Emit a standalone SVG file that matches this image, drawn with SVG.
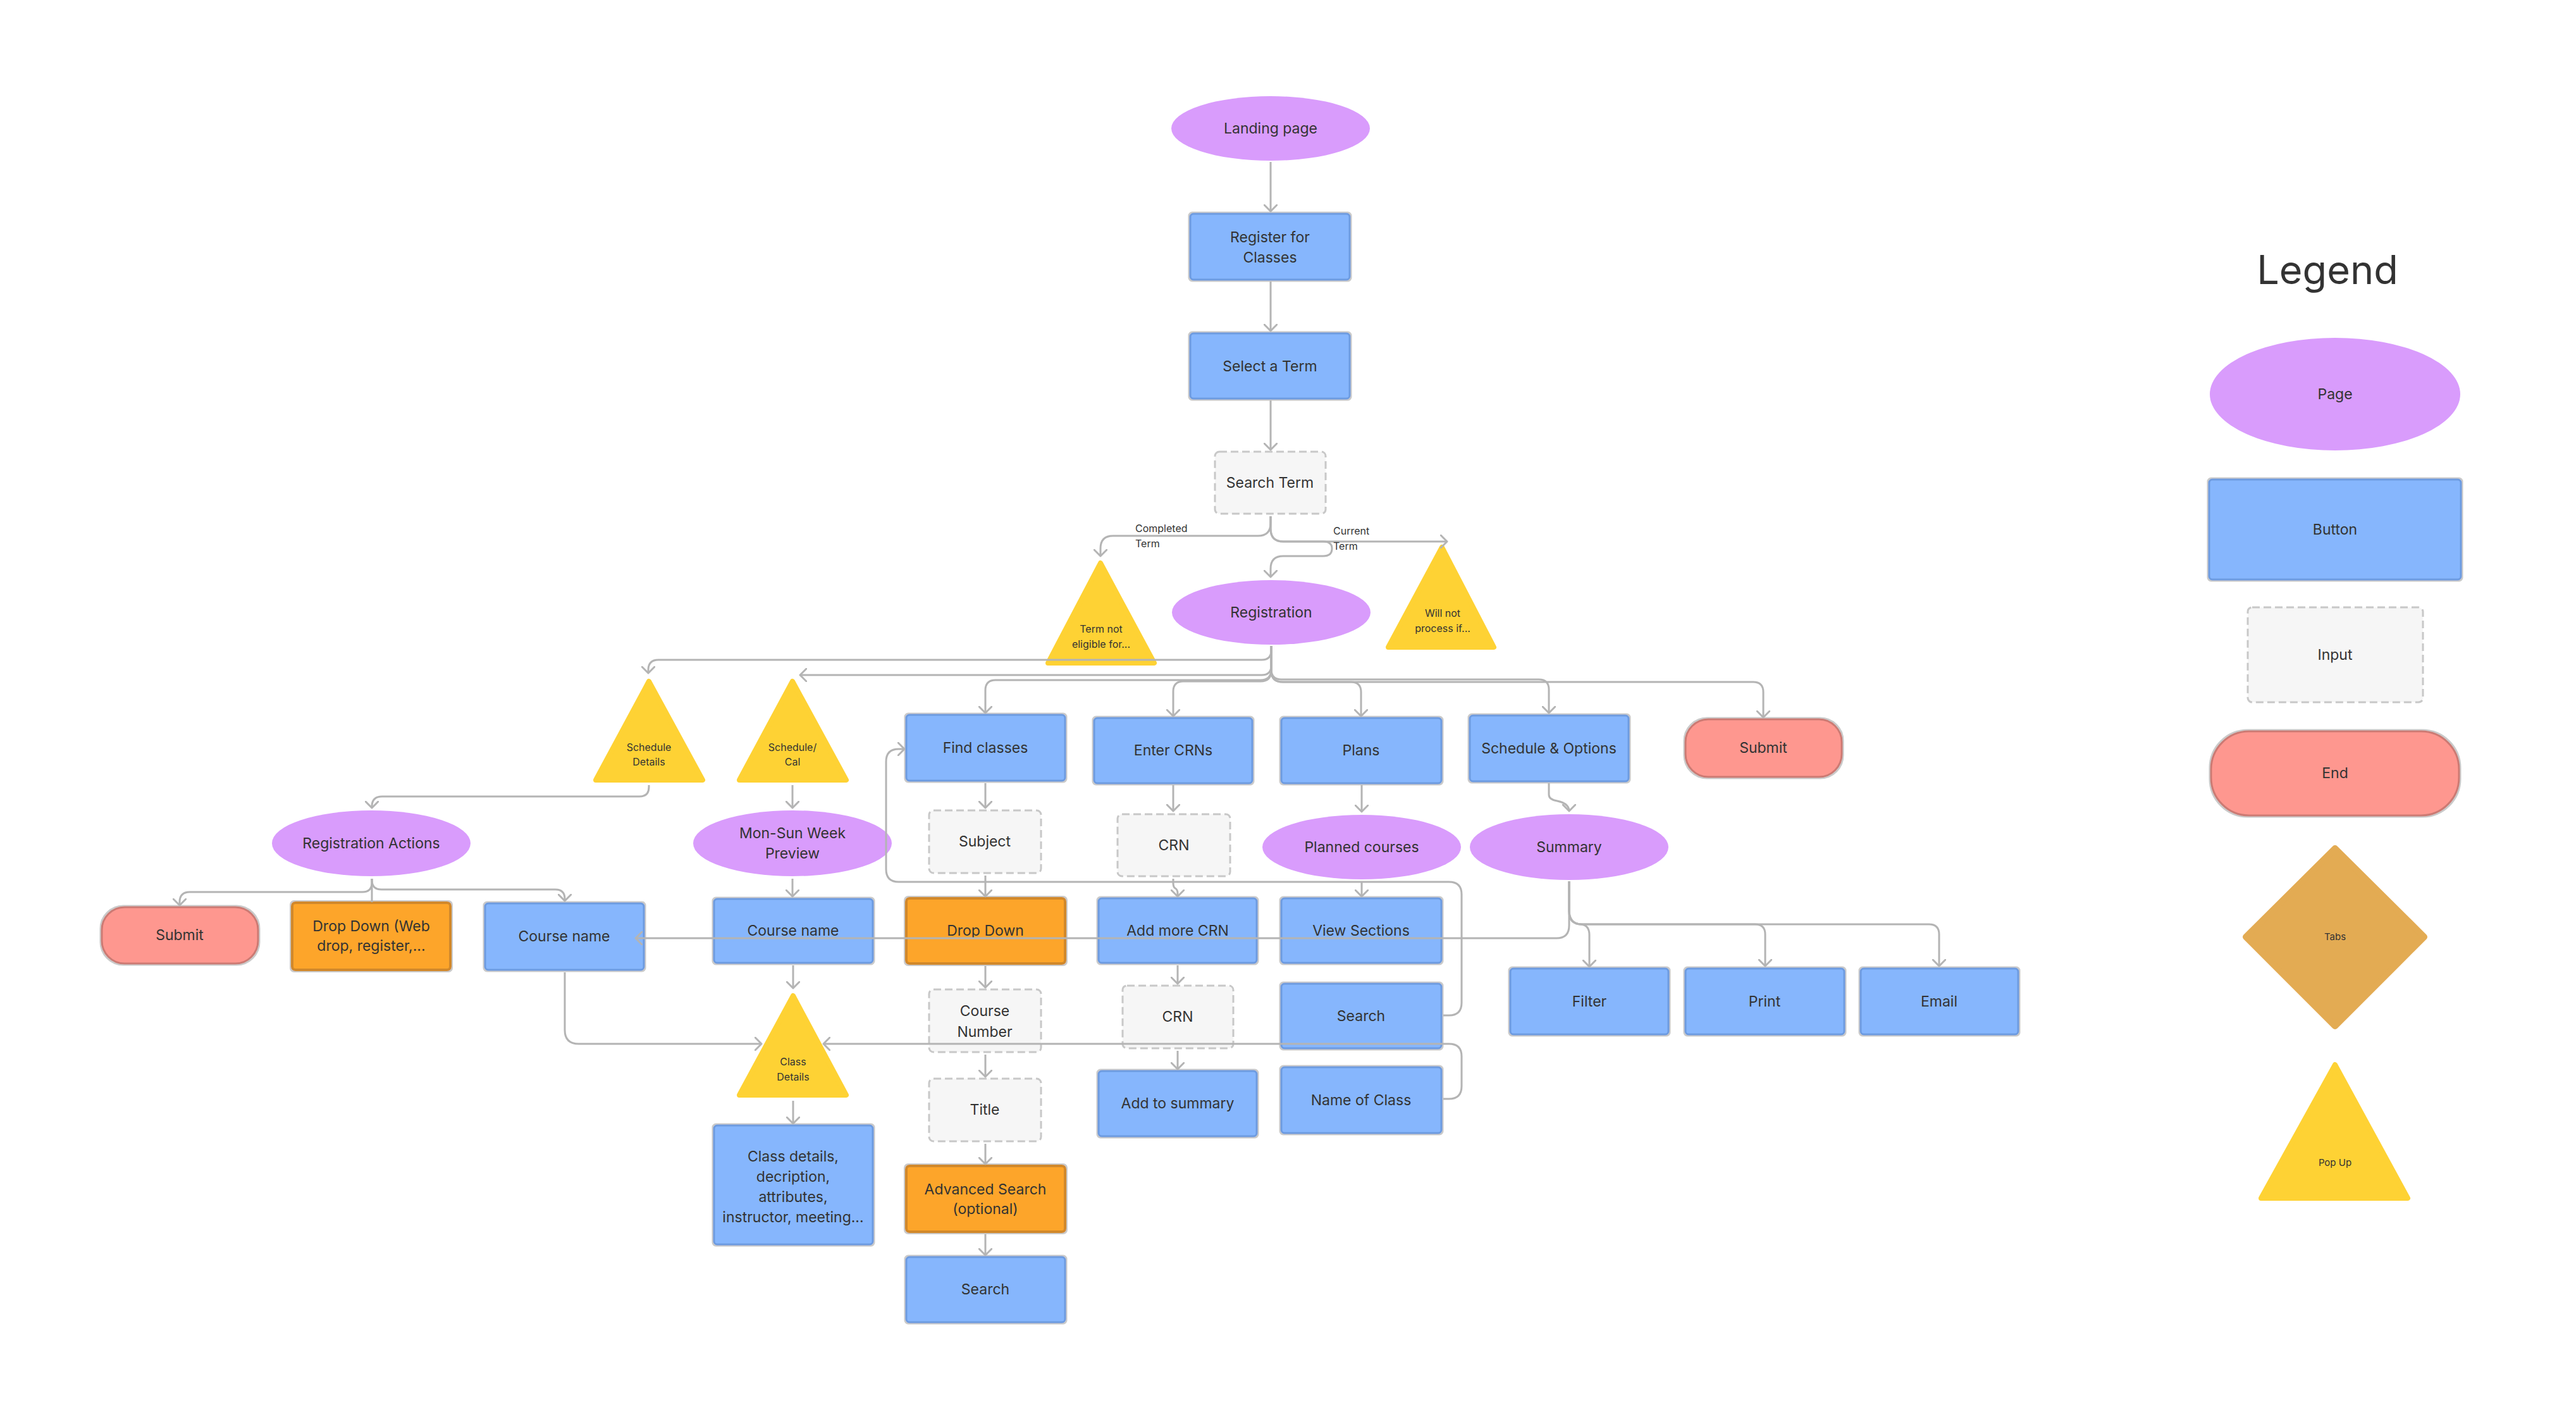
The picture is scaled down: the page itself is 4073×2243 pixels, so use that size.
<svg xmlns="http://www.w3.org/2000/svg" width="4073" height="2243" viewBox="0 0 4073 2243">
<defs>
<filter id="ol" x="-5%" y="-5%" width="110%" height="110%">
<feMorphology in="SourceAlpha" operator="dilate" radius="2" result="d"/>
<feFlood flood-color="#CACACA"/>
<feComposite in2="d" operator="in" result="o"/>
<feMerge><feMergeNode in="o"/><feMergeNode in="SourceGraphic"/></feMerge>
</filter>
<marker id="a" viewBox="0 0 22 22" refX="11" refY="11" markerWidth="22" markerHeight="22" orient="auto" markerUnits="userSpaceOnUse">
<path d="M1,1 L11,11 L1,21" fill="none" stroke="#B4B4B4" stroke-width="3" stroke-linecap="round" stroke-linejoin="round"/>
</marker>
<style>
.t{font-family:Inter,"Noto Sans","Liberation Sans",sans-serif;font-size:23px;fill:#333;text-anchor:middle}
.s{font-size:16px}
.l{text-anchor:start}
.pg{fill:#D99CFC}
.bt{fill:#86B6FD;stroke:#6D9BE0;stroke-width:3;filter:url(#ol)}
.in{fill:#F6F6F6;stroke:#C8C8C8;stroke-width:3;stroke-dasharray:12 6}
.en{fill:#FE978F;stroke:#CC7A73;stroke-width:3;filter:url(#ol)}
.or{fill:#FDA52B;stroke:#D1882A;stroke-width:4;filter:url(#ol)}
.pu{fill:#FED234;stroke:#FED234;stroke-width:8;stroke-linejoin:round}
.tb{fill:#E3AB53;stroke:#E3AB53;stroke-width:10;stroke-linejoin:round}
.c{fill:none;stroke:#B4B4B4;stroke-width:3;marker-end:url(#a)}
.cn{fill:none;stroke:#B4B4B4;stroke-width:3}
</style>
</defs>
<rect width="4073" height="2243" fill="#FFFFFF"/>

<g id="landing"><ellipse class="pg" cx="2009" cy="203" rx="157" ry="51"/><text class="t" x="2009" y="211">Landing page</text></g>
<g id="register"><rect class="bt" x="1882" y="338" width="252" height="104" rx="5"/><text class="t" x="2008" y="383">Register for</text><text class="t" x="2008" y="415">Classes</text></g>
<g id="select-term"><rect class="bt" x="1882" y="527" width="252" height="103" rx="5"/><text class="t" x="2008" y="587">Select a Term</text></g>
<g id="search-term"><rect class="in" x="1921" y="714" width="175" height="98" rx="7"/><text class="t" x="2008" y="771">Search Term</text></g>
<g id="term-not-eligible"><polygon class="pu" points="1740,890 1825,1048 1657,1048"/><text class="t s" x="1741" y="1000">Term not</text><text class="t s" x="1741" y="1024">eligible for...</text></g>
<g id="will-not-process"><polygon class="pu" points="2280,865 2362,1023 2195,1023"/><text class="t s" x="2281" y="975">Will not</text><text class="t s" x="2281" y="999">process if...</text></g>
<g id="registration"><ellipse class="pg" cx="2010" cy="968" rx="157" ry="51"/><text class="t" x="2010" y="976">Registration</text></g>

<g id="schedule-details"><polygon class="pu" points="1026,1077 1111,1233 942,1233"/><text class="t s" x="1026" y="1187">Schedule</text><text class="t s" x="1026" y="1210">Details</text></g>
<g id="schedule-cal"><polygon class="pu" points="1253,1077 1338,1233 1169,1233"/><text class="t s" x="1253" y="1187">Schedule/</text><text class="t s" x="1253" y="1210">Cal</text></g>
<g id="find-classes"><rect class="bt" x="1433" y="1130" width="251" height="104" rx="5"/><text class="t" x="1558" y="1190">Find classes</text></g>
<g id="enter-crns"><rect class="bt" x="1730" y="1135" width="250" height="103" rx="5"/><text class="t" x="1855" y="1194">Enter CRNs</text></g>
<g id="plans"><rect class="bt" x="2026" y="1135" width="253" height="103" rx="5"/><text class="t" x="2152" y="1194">Plans</text></g>
<g id="schedule-options"><rect class="bt" x="2324" y="1131" width="251" height="104" rx="5"/><text class="t" x="2449" y="1191">Schedule &amp; Options</text></g>
<g id="submit-right"><rect class="en" x="2665" y="1137" width="247" height="91" rx="36"/><text class="t" x="2788" y="1190">Submit</text></g>

<g id="registration-actions"><ellipse class="pg" cx="587" cy="1333" rx="157" ry="52"/><text class="t" x="587" y="1341">Registration Actions</text></g>
<g id="mon-sun"><ellipse class="pg" cx="1253" cy="1333" rx="157" ry="52"/><text class="t" x="1253" y="1325">Mon-Sun Week</text><text class="t" x="1253" y="1357">Preview</text></g>
<g id="subject"><rect class="in" x="1469" y="1281" width="177" height="99" rx="7"/><text class="t" x="1557" y="1338">Subject</text></g>
<g id="crn-1"><rect class="in" x="1767" y="1287" width="178" height="98" rx="7"/><text class="t" x="1856" y="1344">CRN</text></g>
<g id="planned-courses"><ellipse class="pg" cx="2153" cy="1339" rx="157" ry="51"/><text class="t" x="2153" y="1347">Planned courses</text></g>
<g id="summary"><ellipse class="pg" cx="2481" cy="1339" rx="157" ry="52"/><text class="t" x="2481" y="1347">Summary</text></g>

<g id="submit-left"><rect class="en" x="161" y="1434" width="247" height="89" rx="36"/><text class="t" x="284" y="1486">Submit</text></g>
<g id="drop-down-web"><rect class="or" x="462" y="1427" width="250" height="106" rx="5"/><text class="t" x="587" y="1472">Drop Down (Web</text><text class="t" x="587" y="1503">drop, register,...</text></g>
<g id="course-name-left"><rect class="bt" x="767" y="1428" width="251" height="105" rx="5"/><text class="t" x="892" y="1488">Course name</text></g>
<g id="course-name-mid"><rect class="bt" x="1129" y="1421" width="251" height="101" rx="5"/><text class="t" x="1254" y="1479">Course name</text></g>
<g id="drop-down"><rect class="or" x="1433" y="1420" width="251" height="103" rx="5"/><text class="t" x="1558" y="1479">Drop Down</text></g>
<g id="add-more-crn"><rect class="bt" x="1737" y="1420" width="250" height="102" rx="5"/><text class="t" x="1862" y="1479">Add more CRN</text></g>
<g id="view-sections"><rect class="bt" x="2026" y="1420" width="253" height="102" rx="5"/><text class="t" x="2152" y="1479">View Sections</text></g>

<g id="class-details-popup"><polygon class="pu" points="1254,1574 1338,1731 1169,1731"/><text class="t s" x="1254" y="1684">Class</text><text class="t s" x="1254" y="1708">Details</text></g>
<g id="course-number"><rect class="in" x="1469" y="1564" width="177" height="99" rx="7"/><text class="t" x="1557" y="1606">Course</text><text class="t" x="1557" y="1639">Number</text></g>
<g id="crn-2"><rect class="in" x="1775" y="1558" width="175" height="99" rx="7"/><text class="t" x="1862" y="1615">CRN</text></g>
<g id="search-col"><rect class="bt" x="2026" y="1555" width="253" height="102" rx="5"/><text class="t" x="2152" y="1614">Search</text></g>
<g id="filter"><rect class="bt" x="2388" y="1531" width="250" height="104" rx="5"/><text class="t" x="2513" y="1591">Filter</text></g>
<g id="print"><rect class="bt" x="2665" y="1531" width="251" height="104" rx="5"/><text class="t" x="2790" y="1591">Print</text></g>
<g id="email"><rect class="bt" x="2942" y="1531" width="249" height="104" rx="5"/><text class="t" x="3066" y="1591">Email</text></g>

<g id="class-details-box"><rect class="bt" x="1129" y="1779" width="251" height="188" rx="5"/><text class="t" x="1254" y="1836">Class details,</text><text class="t" x="1254" y="1868">decription,</text><text class="t" x="1254" y="1900">attributes,</text><text class="t" x="1254" y="1932">instructor, meeting...</text></g>
<g id="title"><rect class="in" x="1469" y="1705" width="177" height="99" rx="7"/><text class="t" x="1557" y="1762">Title</text></g>
<g id="add-to-summary"><rect class="bt" x="1737" y="1693" width="250" height="103" rx="5"/><text class="t" x="1862" y="1752">Add to summary</text></g>
<g id="name-of-class"><rect class="bt" x="2026" y="1687" width="253" height="104" rx="5"/><text class="t" x="2152" y="1747">Name of Class</text></g>
<g id="advanced-search"><rect class="or" x="1433" y="1843" width="251" height="104" rx="5"/><text class="t" x="1558" y="1888">Advanced Search</text><text class="t" x="1558" y="1919">(optional)</text></g>
<g id="search-bottom"><rect class="bt" x="1433" y="1987" width="251" height="103" rx="5"/><text class="t" x="1558" y="2046">Search</text></g>

<g id="legend">
<text class="t" x="3680" y="449" style="font-size:63px">Legend</text>
<g id="legend-page"><ellipse class="pg" cx="3692" cy="623" rx="198" ry="89"/><text class="t" x="3692" y="631">Page</text></g>
<g id="legend-button"><rect class="bt" x="3493" y="758" width="398" height="158" rx="5"/><text class="t" x="3692" y="845">Button</text></g>
<g id="legend-input"><rect class="in" x="3554" y="960" width="277" height="150" rx="7"/><text class="t" x="3692" y="1043">Input</text></g>
<g id="legend-end"><rect class="en" x="3496" y="1156" width="392" height="133" rx="60"/><text class="t" x="3692" y="1230">End</text></g>
<g id="legend-tabs"><polygon class="tb" points="3692,1341 3833,1481 3692,1622 3551,1481"/><text class="t" x="3692" y="1486" style="font-size:15px">Tabs</text></g>
<g id="legend-popup"><polygon class="pu" points="3692,1683 3807,1894 3575,1894"/><text class="t" x="3692" y="1843" style="font-size:15px">Pop Up</text></g>
</g>

<g id="connectors">
<path class="c" d="M2009,256 V334"/>
<path class="c" d="M2009,445 V523"/>
<path class="c" d="M2009,633 V711"/>
<path class="c" d="M2009,816 V827 Q2009,847 1989,847 H1760 Q1740,847 1740,867 V879"/>
<path class="c" d="M2009,816 V836 Q2009,856 2029,856 H2288"/>
<path class="c" d="M2009,816 V836 Q2009,856 2029,856 H2092 Q2106,856 2106,867 Q2106,879 2092,879 H2029 Q2009,879 2009,899 V912"/>
<path class="c" d="M2010,1021 V1028 Q2010,1043 1995,1043 H1041 Q1025,1043 1025,1059 V1064"/>
<path class="c" d="M2010,1021 V1052 Q2010,1067 1995,1067 H1265"/>
<path class="c" d="M2010,1021 V1058 Q2010,1075 1993,1075 H1574 Q1558,1075 1558,1091 V1127"/>
<path class="c" d="M2010,1021 V1060 Q2010,1077 1993,1077 H1871 Q1855,1077 1855,1093 V1132"/>
<path class="c" d="M2010,1021 V1060 Q2010,1078 2028,1078 H2136 Q2152,1078 2152,1094 V1132"/>
<path class="c" d="M2010,1021 V1058 Q2010,1074 2026,1074 H2433 Q2449,1074 2449,1090 V1127"/>
<path class="c" d="M2010,1021 V1060 Q2010,1078 2028,1078 H2772 Q2788,1078 2788,1094 V1134"/>
<path class="c" d="M1026,1241 V1244 Q1026,1259 1011,1259 H604 Q588,1259 588,1275 V1277"/>
<path class="c" d="M1253,1241 V1277"/>
<path class="c" d="M1253,1389 V1417"/>
<path class="c" d="M588,1389 V1395 Q588,1410 573,1410 H300 Q284,1410 284,1426 V1431"/>
<path class="cn" d="M588,1389 V1426"/>
<path class="c" d="M588,1389 V1391 Q588,1406 603,1406 H878 Q893,1406 893,1421 V1424"/>
<path class="c" d="M893,1537 V1628 Q893,1650 915,1650 H1204"/>
<path class="c" d="M2282,1737 H2291 Q2311,1737 2311,1717 V1670 Q2311,1650 2291,1650 H1302"/>
<path class="c" d="M2282,1605 H2291 Q2311,1605 2311,1585 V1414 Q2311,1394 2291,1394 H1421 Q1401,1394 1401,1374 V1204 Q1401,1184 1421,1184 H1430"/>
<path class="c" d="M2481,1393 V1463 Q2481,1483 2461,1483 H1005"/>
<path class="c" d="M2481,1393 V1440 Q2482,1460 2499,1461 Q2513,1462 2513,1478 V1528"/>
<path class="c" d="M2481,1393 V1441 Q2481,1461 2501,1461 H2775 Q2791,1461 2791,1477 V1527"/>
<path class="c" d="M2481,1393 V1441 Q2481,1461 2501,1461 H3050 Q3066,1461 3066,1477 V1527"/>
<path class="c" d="M1558,1238 V1277"/>
<path class="c" d="M1558,1384 V1417"/>
<path class="c" d="M1558,1527 V1561"/>
<path class="c" d="M1558,1667 V1702"/>
<path class="c" d="M1558,1808 V1840"/>
<path class="c" d="M1558,1951 V1984"/>
<path class="c" d="M1254,1526 V1562"/>
<path class="c" d="M1254,1740 V1776"/>
<path class="c" d="M1855,1241 V1282"/>
<path class="c" d="M1855,1389 V1396 Q1855,1402 1858,1404 Q1862,1406 1862,1412 V1417"/>
<path class="c" d="M1862,1526 V1555"/>
<path class="c" d="M1862,1661 V1690"/>
<path class="c" d="M2153,1241 V1283"/>
<path class="c" d="M2153,1394 V1417"/>
<path class="c" d="M2449,1238 V1256 Q2449,1264 2462,1266 Q2481,1270 2481,1282"/>
</g>

<g id="edge-labels">
<text class="t s l" x="1795" y="841">Completed</text>
<text class="t s l" x="1795" y="865">Term</text>
<text class="t s l" x="2108" y="845">Current</text>
<text class="t s l" x="2108" y="869">Term</text>
</g>
</svg>
